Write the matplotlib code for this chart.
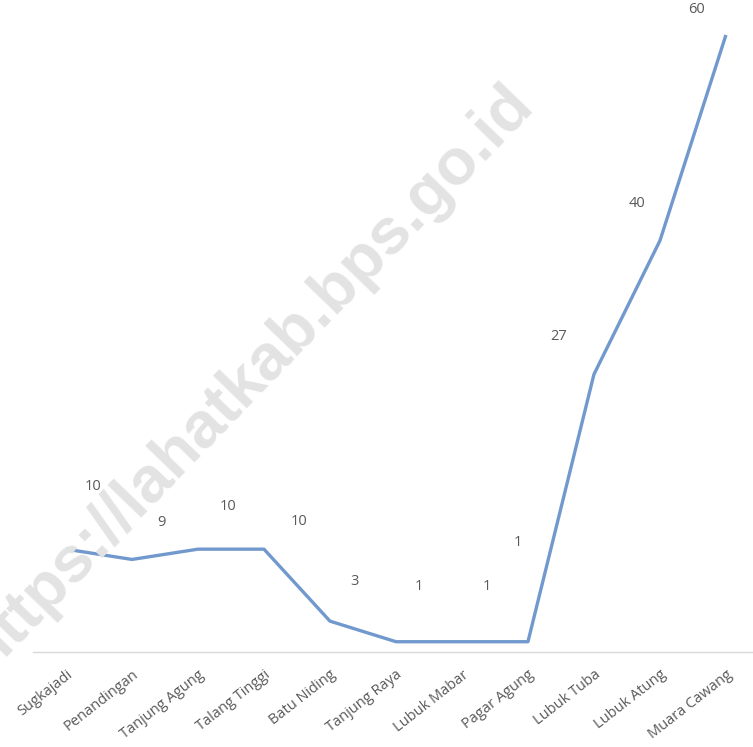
import matplotlib
matplotlib.use("Agg")
import matplotlib.pyplot as plt

desa = ["Sugkajadi", "Penandingan", "Tanjung Agung", "Talang Tinggi", "Batu Niding",
        "Tanjung Raya", "Lubuk Mabar", "Pagar Agung", "Lubuk Tuba", "Lubuk Atung",
        "Muara Cawang"]
jumlah = [10, 9, 10, 10, 3, 1, 1, 1, 27, 40, 60]

# label offsets (pixels) to mimic the original placement
offs = [(27, 63), (29, 37), (30, 43), (35, 28), (25, 40), (23, 55),
        (25, 55), (-10, 99), (-35, 38), (-23, 37), (-29, 25)]

plt.rcParams['font.family'] = ['Open Sans', 'DejaVu Sans']

fig = plt.figure(figsize=(7.53, 7.47), dpi=100)
ax = fig.add_axes([33 / 753, 1 - 652 / 747, 720 / 753, 652 / 747])

# watermark
fig.text(0.33, 0.495, "https://lahatkab.bps.go.id", rotation=46, fontsize=47,
         fontweight='bold', family='Liberation Sans', color='#e3e3e3',
         ha='center', va='center', zorder=0)

x = list(range(len(desa)))
ax.plot(x, jumlah, color='#7199cd', lw=2.4, solid_capstyle='butt', zorder=3)

for i, v in enumerate(jumlah):
    ax.annotate(str(v), (i, v), xytext=offs[i], textcoords='offset pixels',
                ha='center', va='center', fontsize=10.5, color='#595959')

ax.set_xlim(-0.5, 10.41)
ax.set_ylim(0, 63.4)
ax.set_xticks(x)
ax.set_xticklabels(desa, rotation=38, ha='right', rotation_mode='anchor',
                   fontsize=10.5, color='#595959')
ax.tick_params(axis='x', length=0, pad=11)
ax.set_yticks([])
for s in ['top', 'right', 'left']:
    ax.spines[s].set_visible(False)
ax.spines['bottom'].set_color('#d9d9d9')
ax.spines['bottom'].set_linewidth(1)
ax.patch.set_alpha(0)

fig.savefig("out.png", dpi=100)
